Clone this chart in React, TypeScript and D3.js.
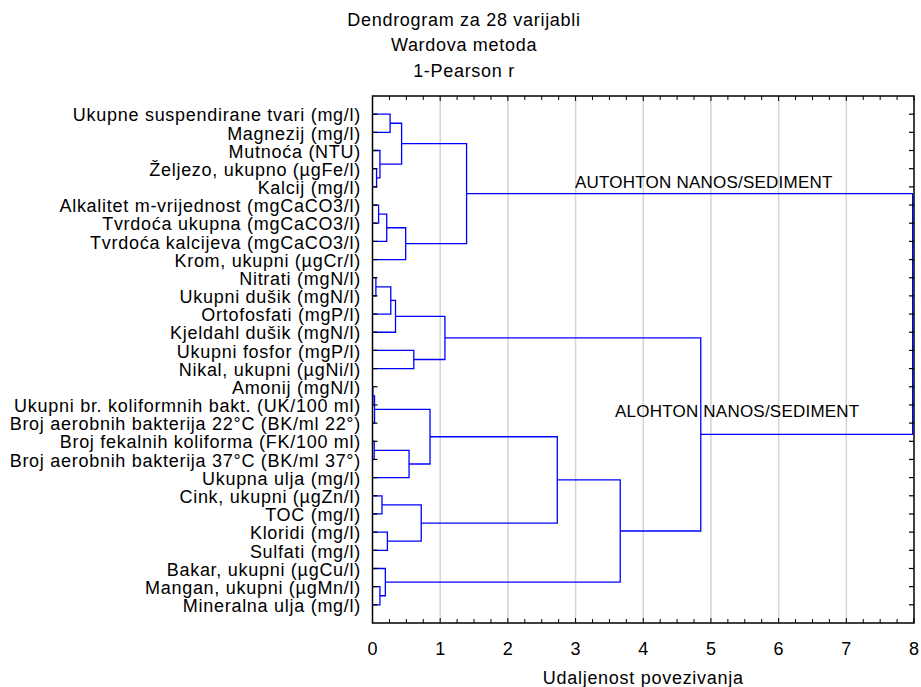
import React from 'react';
import * as d3 from 'd3';

const leafLabels: string[] = [
  'Ukupne suspendirane tvari (mg/l)',
  'Magnezij (mg/l)',
  'Mutnoća (NTU)',
  'Željezo, ukupno (µgFe/l)',
  'Kalcij (mg/l)',
  'Alkalitet m-vrijednost (mgCaCO3/l)',
  'Tvrdoća ukupna (mgCaCO3/l)',
  'Tvrdoća kalcijeva (mgCaCO3/l)',
  'Krom, ukupni (µgCr/l)',
  'Nitrati (mgN/l)',
  'Ukupni dušik (mgN/l)',
  'Ortofosfati (mgP/l)',
  'Kjeldahl dušik (mgN/l)',
  'Ukupni fosfor (mgP/l)',
  'Nikal, ukupni (µgNi/l)',
  'Amonij (mgN/l)',
  'Ukupni br. koliformnih bakt. (UK/100 ml)',
  'Broj aerobnih bakterija 22°C (BK/ml 22°)',
  'Broj fekalnih koliforma (FK/100 ml)',
  'Broj aerobnih bakterija 37°C (BK/ml 37°)',
  'Ukupna ulja (mg/l)',
  'Cink, ukupni (µgZn/l)',
  'TOC (mg/l)',
  'Kloridi (mg/l)',
  'Sulfati (mg/l)',
  'Bakar, ukupni (µgCu/l)',
  'Mangan, ukupni (µgMn/l)',
  'Mineralna ulja (mg/l)',
];

// Linkage: [childA, childB, distance]; ids 0..27 are leaves, 28+ are merges in order
const mergeA: number[] = [15, 28, 18, 30, 29, 21, 23, 33, 32, 26, 25, 36, 9, 40, 41, 13, 42, 44, 0, 3, 2, 46, 5, 50, 51, 49, 53];
const mergeB: number[] = [16, 17, 19, 20, 31, 22, 24, 34, 35, 27, 37, 38, 10, 11, 12, 14, 43, 39, 1, 4, 47, 48, 6, 7, 8, 52, 45];
const mergeHeight: number[] = [0.005, 0.03, 0.025, 0.54, 0.85, 0.14, 0.22, 0.72, 2.73, 0.11, 0.19, 3.66, 0.05, 0.27, 0.34, 0.61, 1.07, 4.85, 0.26, 0.06, 0.11, 0.43, 0.09, 0.21, 0.49, 1.39, 7.98];

const titleLines: string[] = ['Dendrogram za 28 varijabli', 'Wardova metoda', '1-Pearson r'];
const xTickValues: number[] = [0, 1, 2, 3, 4, 5, 6, 7, 8];
const xAxisTitle = 'Udaljenost povezivanja';
const clusterNames: string[] = ['AUTOHTON NANOS/SEDIMENT', 'ALOHTON NANOS/SEDIMENT'];

type TNode = { name: string; h: number; children?: TNode[] };

function buildTree(): TNode {
  const n = leafLabels.length;
  const make = (id: number): TNode => {
    if (id < n) return { name: leafLabels[id], h: 0 };
    const k = id - n;
    return { name: 'm' + k, h: mergeHeight[k], children: [make(mergeA[k]), make(mergeB[k])] };
  };
  return make(n + mergeA.length - 1);
}

const FONT = '"Liberation Sans", Arial, sans-serif';

export default function App() {
  const W = 921, H = 687;
  const left = 372.5, right = 914, top = 96, bottom = 623;
  const x = d3.scaleLinear().domain([0, 8]).range([left, right]);
  const y = d3.scalePoint<string>().domain(leafLabels).range([top, bottom]).padding(1);

  const root = d3.hierarchy<TNode>(buildTree());
  const pos = new Map<any, number>();
  root.eachAfter((nd: any) => {
    if (!nd.children) pos.set(nd, y(nd.data.name) as number);
    else pos.set(nd, d3.mean(nd.children, (c: any) => pos.get(c)) as number);
  });
  const links: string[] = [];
  root.each((nd: any) => {
    if (!nd.children) return;
    const [a, b] = nd.children;
    const p = d3.path();
    p.moveTo(x(a.data.h), pos.get(a)!);
    p.lineTo(x(nd.data.h), pos.get(a)!);
    p.lineTo(x(nd.data.h), pos.get(b)!);
    p.lineTo(x(b.data.h), pos.get(b)!);
    links.push(p.toString());
  });

  const minorTicks = d3.range(0, 8.001, 0.25);

  return (
    <svg width={W} height={H} style={{ position: 'absolute', left: 0, top: 0, background: '#fff' }} fontFamily={FONT}>
      <rect x={0} y={0} width={W} height={H} fill="#fff" />
      {titleLines.map((t, i) => (
        <text key={t} x={464} y={25.7 + i * 25.5} textAnchor="middle" fontSize={18} letterSpacing={0.7} fill="#000">{t}</text>
      ))}
      {/* grid */}
      {xTickValues.slice(1, -1).map(v => (
        <line key={'g' + v} x1={x(v)} x2={x(v)} y1={top} y2={bottom} stroke="#d4d4d4" strokeWidth={1.5} />
      ))}
      {/* dendrogram */}
      {links.map((d, i) => (
        <path key={i} d={d} fill="none" stroke="#0000ff" strokeWidth={1.3} />
      ))}
      {/* frame */}
      <rect x={left} y={top} width={right - left} height={bottom - top} fill="none" stroke="#000" strokeWidth={1.5} />
      {/* leaf ticks */}
      {leafLabels.map(l => (
        <g key={'t' + l}>
          <line x1={left} x2={left + 5} y1={y(l)} y2={y(l)} stroke="#000" strokeWidth={1.2} />
          <line x1={right} x2={right - 5} y1={y(l)} y2={y(l)} stroke="#000" strokeWidth={1.2} />
        </g>
      ))}
      {minorTicks.map(v => (
        <g key={'m' + v}>
          <line x1={x(v)} x2={x(v)} y1={bottom} y2={bottom - (Number.isInteger(v) ? 5 : 4)} stroke="#000" strokeWidth={1} />
          <line x1={x(v)} x2={x(v)} y1={top} y2={top + (Number.isInteger(v) ? 5 : 4)} stroke="#000" strokeWidth={1} />
        </g>
      ))}
      {/* leaf labels */}
      {leafLabels.map(l => (
        <text key={'l' + l} x={361} y={(y(l) as number) + 7.2} textAnchor="end" fontSize={18} letterSpacing={0.72} fill="#000">{l}</text>
      ))}
      {/* x tick labels */}
      {xTickValues.map(v => (
        <text key={'x' + v} x={x(v)} y={655} textAnchor="middle" fontSize={18} fill="#000">{v}</text>
      ))}
      <text x={(left + right) / 2} y={684} textAnchor="middle" fontSize={18} letterSpacing={0.72} fill="#000">{xAxisTitle}</text>
      <text x={575} y={188.3} fontSize={17} letterSpacing={0.22} fill="#000">{clusterNames[0]}</text>
      <text x={615} y={416.7} fontSize={17} letterSpacing={0.22} fill="#000">{clusterNames[1]}</text>
    </svg>
  );
}
